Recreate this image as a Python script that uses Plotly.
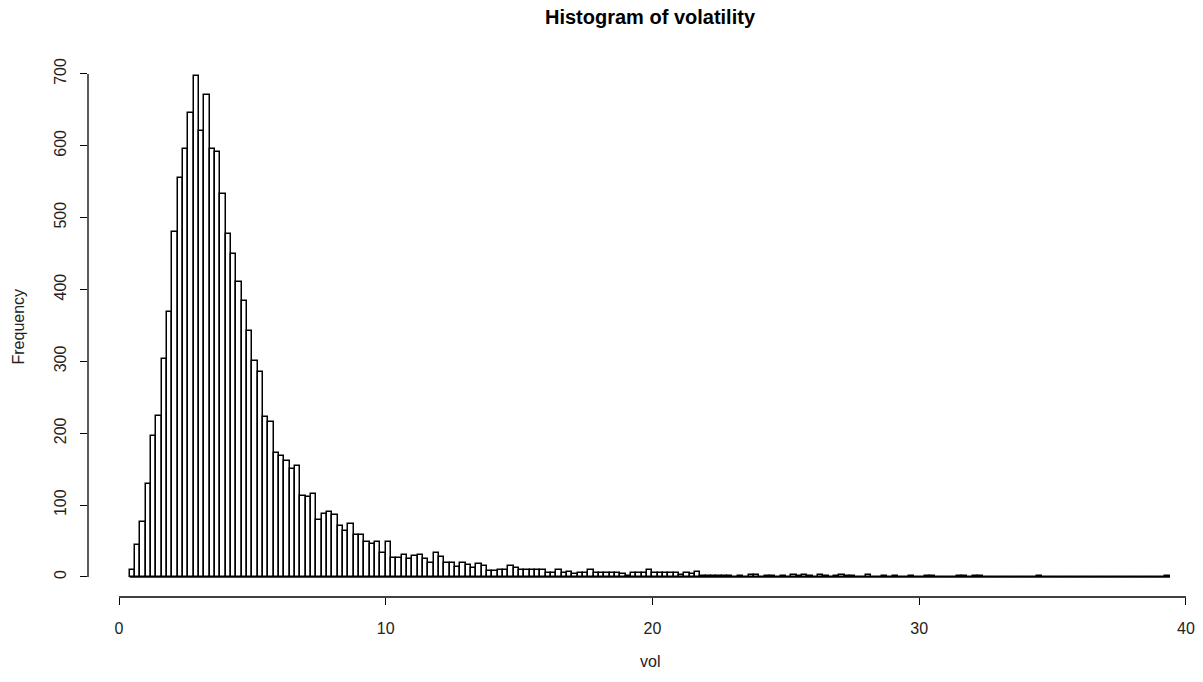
import plotly.graph_objects as go

# Histogram of volatility: bins of width 0.2 starting at 0.4
bin_start = 0.4
bin_width = 0.2

counts_head = [9, 45, 77, 130, 196, 224, 303, 369, 480, 555,
               596, 645, 697, 621, 671, 596, 592, 533, 477, 449,
               411, 384, 342, 301, 285, 223, 215, 172, 168, 162,
               150, 154, 113, 111, 115, 79, 88, 90, 86, 71,
               64, 73, 58, 58, 48, 46, 48, 34, 48, 26,
               26, 31, 25, 29, 31, 25, 19, 34, 28, 19,
               20, 14, 19, 17, 13]
counts_mid = [18, 15, 8, 8, 10, 9, 15, 12, 10, 10,
              10, 10, 10, 5, 6, 9, 6, 7, 4, 5,
              5, 9, 5, 5, 5, 5, 6, 4, 2, 5,
              6, 5, 9, 6, 5, 5, 5, 6, 3, 5,
              4, 7]
counts_tail = [1, 2, 1, 1, 1, 1, 0, 1, 0, 3,
               3, 0, 1, 1, 0, 1, 0, 3, 1, 3,
               1, 0, 3, 1, 0, 1, 3, 1, 1, 0,
               0, 3, 0, 0, 2, 0, 2, 0, 0, 2,
               0, 0, 2, 2, 0, 0, 0, 0, 2, 2,
               0, 2, 2, 0, 0, 0, 0, 0, 0, 0,
               0, 0, 0, 2, 0, 0, 0, 0, 0, 0,
               0, 0, 0, 0, 0, 0, 0, 0, 0, 0,
               0, 0, 0, 0, 0, 0, 0, 2]

x_ticks = [0, 10, 20, 30, 40]
y_ticks = [0, 100, 200, 300, 400, 500, 600, 700]

counts = counts_head + counts_mid + counts_tail
n = len(counts)
lefts = [bin_start + i * bin_width for i in range(n)]
centers = [l + bin_width / 2 for l in lefts]
last_edge = lefts[-1] + bin_width

FONT = "Liberation Sans, Arial, sans-serif"
TXT = "#222222"

fig = go.Figure()
# zero-count bins in R hist draw as a flat line at 0
fig.add_trace(go.Scatter(x=[lefts[0], last_edge], y=[0, 0], mode="lines",
                         line=dict(color="black", width=1.5), hoverinfo="skip",
                         showlegend=False))
fig.add_trace(go.Bar(x=centers, y=counts, width=[bin_width] * n,
                     marker=dict(color="white", line=dict(color="black", width=1.5)),
                     showlegend=False))

# R style axis lines spanning only the tick range
fig.add_shape(type="line", xref="x", yref="paper", x0=x_ticks[0], x1=x_ticks[-1],
              y0=0, y1=0, line=dict(color="black", width=1.3))
fig.add_shape(type="line", xref="paper", yref="y", x0=0, x1=0,
              y0=y_ticks[0], y1=y_ticks[-1], line=dict(color="black", width=1.3))

fig.update_layout(
    width=1203, height=682,
    margin=dict(l=88, r=0, t=56, b=85),
    paper_bgcolor="white", plot_bgcolor="white",
    bargap=0,
    font=dict(family=FONT, size=16, color=TXT),
    title=dict(text="<b>Histogram of volatility</b>", x=650 / 1203, xref="container",
               xanchor="center", y=1 - 17 / 682, yref="container", yanchor="middle",
               font=dict(family=FONT, size=20, color="black")),
    xaxis=dict(range=[-1.163, 40.64], showgrid=False, zeroline=False, showline=False,
               tickmode="array", tickvals=x_ticks, ticktext=[str(v) for v in x_ticks],
               ticks="outside", ticklen=7, tickwidth=1.3, tickcolor="black",
               tickfont=dict(size=16, color=TXT), ticklabelstandoff=10),
    yaxis=dict(range=[-27.9, 724.9], showgrid=False, zeroline=False, showline=False,
               tickmode="array", tickvals=y_ticks, ticktext=[str(v) for v in y_ticks],
               ticks="outside", ticklen=7, tickwidth=1.3, tickcolor="black",
               tickfont=dict(size=16, color=TXT), tickangle=-90, ticklabelstandoff=8),
    annotations=[
        dict(text="vol", xref="paper", yref="paper", x=(649.5 - 88) / (1203 - 88), y=0,
             yshift=-64, showarrow=False, xanchor="center", yanchor="middle",
             font=dict(family=FONT, size=16, color=TXT)),
        dict(text="Frequency", xref="paper", yref="paper", x=0, y=0.5,
             xshift=-70, showarrow=False, textangle=-90, xanchor="center", yanchor="middle",
             font=dict(family=FONT, size=16, color=TXT)),
    ],
)

fig.write_html("out.html")
